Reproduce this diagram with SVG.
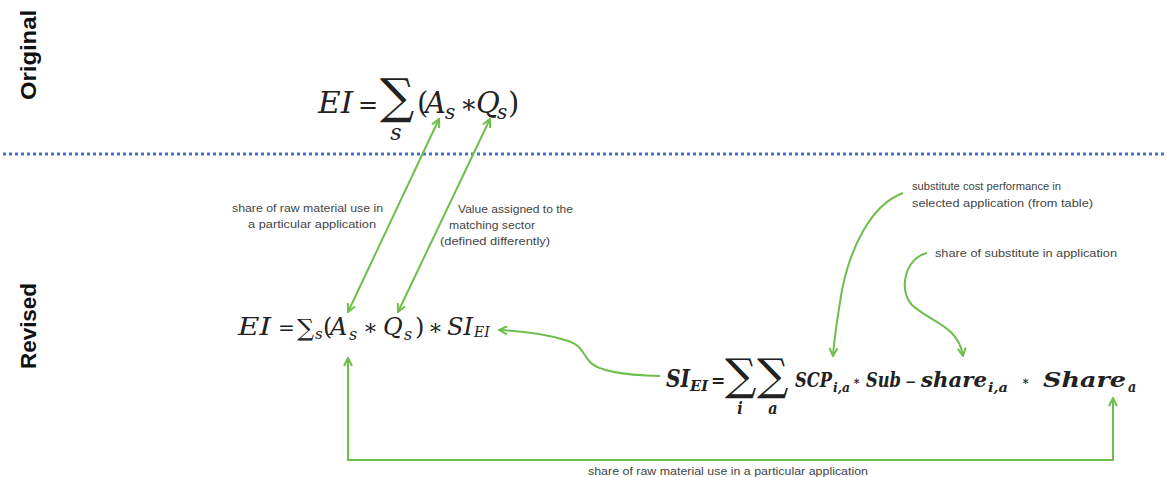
<svg xmlns="http://www.w3.org/2000/svg" width="1167" height="477" viewBox="0 0 1167 477">
<defs>
<style>
.side{font-family:"Liberation Sans",Arial,sans-serif;font-weight:bold;font-size:22px;fill:#111}
.m{font-family:"DejaVu Serif","Liberation Serif",serif;font-style:italic;fill:#222}
.mr{font-family:"DejaVu Serif","Liberation Serif",serif;fill:#222}
.b{font-weight:bold;font-stretch:condensed}
.note{font-family:"Liberation Sans",Arial,sans-serif;font-size:10.5px;fill:#444}
.con{fill:none;stroke:#6DBE4B;stroke-width:2}
</style>
<marker id="ah" viewBox="0 0 10 10" refX="9" refY="5" markerWidth="10" markerHeight="10" markerUnits="userSpaceOnUse" orient="auto-start-reverse">
<path d="M1,1 L9,5 L1,9" fill="none" stroke="#6DBE4B" stroke-width="2"/>
</marker>
</defs>
<rect width="1167" height="477" fill="#fff"/>

<g id="label-original"><text class="side" transform="translate(36,55) rotate(-90)" text-anchor="middle" textLength="90" lengthAdjust="spacingAndGlyphs">Original</text></g>
<g id="label-revised"><text class="side" transform="translate(36,326) rotate(-90)" text-anchor="middle" textLength="86" lengthAdjust="spacingAndGlyphs">Revised</text></g>

<g id="divider"><line x1="3" y1="154" x2="1165" y2="154" stroke="#4472C4" stroke-width="3" stroke-dasharray="3 3"/></g>

<g id="eq-original">
<text class="m" x="318" y="113" font-size="29" textLength="35" lengthAdjust="spacingAndGlyphs">EI</text>
<text class="mr" x="358" y="113" font-size="24">=</text>
<text class="mr" x="380" y="113" font-size="48">∑</text>
<text class="m" x="396" y="140" font-size="22" text-anchor="middle">s</text>
<text class="mr" x="417" y="113" font-size="29">(</text>
<text class="m" x="425" y="113" font-size="29">A</text>
<text class="m" x="445" y="119" font-size="20">s</text>
<text class="mr" x="460" y="113" font-size="26">∗</text>
<text class="m" x="476" y="113" font-size="29">Q</text>
<text class="m" x="497" y="119" font-size="20">s</text>
<text class="mr" x="508" y="113" font-size="29">)</text>
</g>

<g id="eq-revised">
<text class="m" x="238" y="335" font-size="24" textLength="33" lengthAdjust="spacingAndGlyphs">EI</text>
<text class="mr" x="278" y="335" font-size="20">=</text>
<text class="mr" x="297" y="336" font-size="24">∑</text>
<text class="m" x="315" y="339" font-size="15">s</text>
<text class="mr" x="323" y="335" font-size="24">(</text>
<text class="m" x="330" y="335" font-size="24">A</text>
<text class="m" x="349" y="340" font-size="16">s</text>
<text class="mr" x="363" y="335" font-size="22">∗</text>
<text class="m" x="383" y="335" font-size="24">Q</text>
<text class="m" x="404" y="340" font-size="16">s</text>
<text class="mr" x="415" y="335" font-size="24">)</text>
<text class="mr" x="428" y="335" font-size="22">∗</text>
<text class="m" x="447" y="335" font-size="24" textLength="26" lengthAdjust="spacingAndGlyphs">SI</text>
<text class="m" x="474" y="337" font-size="14">EI</text>
</g>

<g id="eq-si">
<text class="m b" x="666" y="387" font-size="24" textLength="24" lengthAdjust="spacingAndGlyphs">SI</text>
<text class="m b" x="690" y="391" font-size="14" textLength="18" lengthAdjust="spacingAndGlyphs">EI</text>
<text class="mr b" x="711" y="387" font-size="19">=</text>
<text class="mr" x="725" y="390" font-size="44">∑</text>
<text class="mr" x="757" y="390" font-size="44">∑</text>
<text class="m b" x="740" y="414" font-size="16" text-anchor="middle">i</text>
<text class="m b" x="773" y="414" font-size="16" text-anchor="middle">a</text>
<text class="m b" x="795" y="387" font-size="21" textLength="37" lengthAdjust="spacingAndGlyphs">SCP</text>
<text class="m b" x="833" y="392" font-size="13" textLength="17" lengthAdjust="spacingAndGlyphs">i,a</text>
<text class="mr b" x="853" y="385" font-size="12">∗</text>
<text class="m b" x="866" y="387" font-size="21" textLength="35" lengthAdjust="spacingAndGlyphs">Sub</text>
<text class="mr b" x="905" y="387" font-size="15">−</text>
<text class="m b" x="921" y="387" font-size="21" textLength="66" lengthAdjust="spacingAndGlyphs">share</text>
<text class="m b" x="988" y="392" font-size="13" textLength="20" lengthAdjust="spacingAndGlyphs">i,a</text>
<text class="mr b" x="1022" y="385" font-size="12">∗</text>
<text class="m b" x="1043" y="387" font-size="21" textLength="83" lengthAdjust="spacingAndGlyphs">Share</text>
<text class="m b" x="1128" y="392" font-size="14">a</text>
</g>

<g id="notes">
<text class="note" x="232" y="212" textLength="151" lengthAdjust="spacingAndGlyphs">share of raw material use in</text>
<text class="note" x="248" y="228" textLength="128" lengthAdjust="spacingAndGlyphs">a particular application</text>
<text class="note" x="458" y="213" textLength="115" lengthAdjust="spacingAndGlyphs">Value assigned to the</text>
<text class="note" x="449" y="229" textLength="86" lengthAdjust="spacingAndGlyphs">matching sector</text>
<text class="note" x="440" y="245" textLength="110" lengthAdjust="spacingAndGlyphs">(defined differently)</text>
<text class="note" x="912" y="190" textLength="149" lengthAdjust="spacingAndGlyphs">substitute cost performance in</text>
<text class="note" x="912" y="207" textLength="181" lengthAdjust="spacingAndGlyphs">selected application (from table)</text>
<text class="note" x="935" y="257" textLength="182" lengthAdjust="spacingAndGlyphs">share of substitute in application</text>
<text class="note" x="588" y="475" font-size="10" textLength="280" lengthAdjust="spacingAndGlyphs">share of raw material use in a particular application</text>
</g>

<g id="connectors">
<path class="con" d="M439,119 L348,312" marker-start="url(#ah)" marker-end="url(#ah)"/>
<path class="con" d="M490,119 L398,312" marker-start="url(#ah)" marker-end="url(#ah)"/>
<path class="con" d="M660,376 C620,375 597,370 590,362 C580,350 582,345 565,340 C545,334 520,331 499,330" marker-end="url(#ah)"/>
<path class="con" d="M903,193 C870,205 850,250 842,290 C837,320 834,340 833,356" marker-end="url(#ah)"/>
<path class="con" d="M927,253 C905,258 898,290 912,305 C930,322 958,325 963,356" marker-end="url(#ah)"/>
<path class="con" d="M348,358 L348,460 L1113,460 L1113,398" marker-start="url(#ah)" marker-end="url(#ah)"/>
</g>
</svg>
